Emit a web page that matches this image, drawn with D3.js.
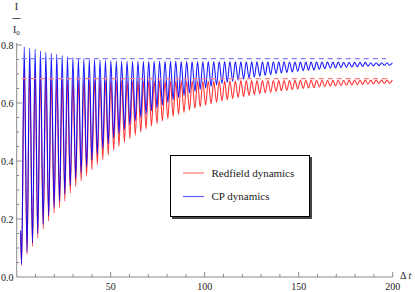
<!DOCTYPE html>
<html>
<head>
<meta charset="utf-8">
<script src="https://cdn.jsdelivr.net/npm/d3@7"></script>
<style>
  body { margin: 0; background: #fff; }
  svg text { font-family: "Liberation Serif", "DejaVu Serif", serif; fill: #222; }
</style>
</head>
<body>
<div id="chart"></div>
<script>
/* I/I0 against Δt: Redfield vs CP dynamics, damped oscillations
   as local minima / maxima, with the two stationary levels as dashed lines. */

// times of the local minima and maxima (shared by both curves)
const troughT = [2.6,5.5,8.4,11.2,14.1,17.0,19.9,22.8,25.6,28.5,31.4,34.3,37.2,40.0,42.9,45.8,48.7,51.6,54.4,57.3,
  60.2,63.1,66.0,68.8,71.7,74.6,77.5,80.4,83.2,86.1,89.0,91.9,94.8,97.6,100.5,103.4,106.3,109.2,112.0,114.9,
  117.8,120.7,123.6,126.4,129.3,132.2,135.1,138.0,140.8,143.7,146.6,149.5,152.4,155.2,158.1,161.0,163.9,166.8,169.6,172.5,
  175.4,178.3,181.2,184.0,186.9,189.8,192.7,195.6,198.4];
const peakT = [4.0,6.9,9.8,12.6,15.5,18.4,21.3,24.2,27.0,29.9,32.8,35.7,38.6,41.4,44.3,47.2,50.1,53.0,55.8,58.7,
  61.6,64.5,67.4,70.2,73.1,76.0,78.9,81.8,84.6,87.5,90.4,93.3,96.2,99.0,101.9,104.8,107.7,110.6,113.4,116.3,
  119.2,122.1,125.0,127.8,130.7,133.6,136.5,139.4,142.2,145.1,148.0,150.9,153.8,156.6,159.5,162.4,165.3,168.2,171.0,173.9,
  176.8,179.7,182.6,185.4,188.3,191.2,194.1,197.0,199.8];

// Redfield dynamics (red)
const redStart = [2.1, 0.15];
const redTrough = [0.04,0.078,0.106,0.135,0.166,0.193,0.22,0.24,0.262,0.29,
  0.312,0.33,0.348,0.369,0.387,0.404,0.42,0.437,0.45,0.464,
  0.477,0.489,0.5,0.51,0.52,0.529,0.538,0.546,0.554,0.561,
  0.568,0.575,0.581,0.587,0.592,0.597,0.602,0.607,0.611,0.615,
  0.619,0.622,0.626,0.629,0.632,0.635,0.637,0.64,0.642,0.644,
  0.646,0.648,0.65,0.652,0.653,0.655,0.656,0.658,0.659,0.66,
  0.661,0.662,0.663,0.664,0.665,0.666,0.667,0.668,0.668];
const redPeak = [0.725,0.712,0.702,0.695,0.69,0.686,0.683,0.681,0.679,0.678,
  0.677,0.677,0.677,0.677,0.677,0.676,0.676,0.676,0.676,0.676,
  0.676,0.676,0.676,0.676,0.676,0.676,0.676,0.676,0.676,0.676,
  0.676,0.676,0.676,0.676,0.676,0.676,0.676,0.676,0.676,0.676,
  0.677,0.677,0.677,0.677,0.677,0.677,0.677,0.677,0.677,0.677,
  0.678,0.678,0.678,0.678,0.678,0.678,0.678,0.678,0.678,0.678,
  0.679,0.679,0.679,0.679,0.679,0.679,0.679,0.679,0.679];

// CP dynamics (blue)
const cpStart = [2.1, 0.16];
const cpTrough = [0.045,0.086,0.117,0.149,0.182,0.211,0.24,0.262,0.286,0.316,
  0.34,0.36,0.38,0.403,0.423,0.442,0.46,0.479,0.494,0.51,
  0.525,0.539,0.551,0.562,0.573,0.583,0.593,0.602,0.611,0.619,
  0.626,0.634,0.64,0.647,0.652,0.657,0.662,0.667,0.671,0.675,
  0.679,0.682,0.686,0.689,0.692,0.695,0.698,0.701,0.703,0.705,
  0.707,0.709,0.711,0.713,0.714,0.716,0.718,0.72,0.721,0.722,
  0.723,0.724,0.725,0.726,0.727,0.728,0.729,0.73,0.73];
const cpPeak = [0.794,0.789,0.785,0.779,0.775,0.771,0.768,0.764,0.76,0.757,
  0.754,0.752,0.751,0.75,0.748,0.747,0.746,0.745,0.744,0.744,
  0.744,0.744,0.744,0.744,0.744,0.744,0.744,0.744,0.744,0.743,
  0.743,0.743,0.743,0.743,0.743,0.743,0.743,0.743,0.743,0.742,
  0.742,0.742,0.742,0.742,0.742,0.742,0.742,0.742,0.742,0.741,
  0.741,0.741,0.741,0.741,0.741,0.741,0.741,0.741,0.741,0.74,
  0.74,0.74,0.74,0.74,0.739,0.739,0.739,0.739,0.739];

// stationary levels (dashed): value, first t, last t
const redLevel = [0.684, 2.7, 199];
const cpLevel  = [0.753, 2.7, 196.5];

const xTicksMajor = [50, 100, 150, 200];
const yTicksMajor = [0.0, 0.2, 0.4, 0.6, 0.8];
const legendItems = ["Redfield dynamics", "CP dynamics"];

const W = 415, H = 292;
const x = d3.scaleLinear().domain([0, 200]).range([16.7, 392.7]);
const y = d3.scaleLinear().domain([0, 0.8]).range([277, 45]);

const svg = d3.select("#chart").append("svg").attr("width", W).attr("height", H);

// merge start point, minima and maxima into one time-ordered series
function series(start, trough, peak){
  const pts = [start];
  troughT.forEach((t, i) => pts.push([t, trough[i]]));
  peakT.forEach((t, i) => pts.push([t, peak[i]]));
  return pts.sort((a, b) => a[0] - b[0]);
}

const line = d3.line().x(d => x(d[0])).y(d => y(d[1])).curve(d3.curveMonotoneX);

// axes (Mathematica-style: gray, ticks pointing inward)
const axisCol = "#8a8a8a";
const ax = svg.append("g");
ax.append("line").attr("x1", x(0)).attr("x2", x(200)).attr("y1", y(0)).attr("y2", y(0))
  .attr("stroke", axisCol);
ax.append("line").attr("x1", x(0)).attr("x2", x(0)).attr("y1", y(0)).attr("y2", y(0.8) - 2)
  .attr("stroke", axisCol);

d3.range(10, 201, 10).forEach(t => {
  const major = xTicksMajor.includes(t);
  ax.append("line").attr("x1", x(t)).attr("x2", x(t)).attr("y1", y(0)).attr("y2", y(0) - (major ? 5 : 3))
    .attr("stroke", axisCol);
});
xTicksMajor.forEach(t => {
  ax.append("text").attr("x", x(t)).attr("y", 290).attr("text-anchor", "middle")
    .attr("font-size", 10).text(t);
});
d3.range(1, 17).forEach(k => {
  const v = k * 0.05;
  const major = k % 4 === 0;
  ax.append("line").attr("x1", x(0)).attr("x2", x(0) + (major ? 5 : 2.5)).attr("y1", y(v)).attr("y2", y(v))
    .attr("stroke", axisCol);
});
yTicksMajor.forEach(v => {
  ax.append("text").attr("x", 13.5).attr("y", y(v) + 3.5).attr("text-anchor", "end")
    .attr("font-size", 10).text(v.toFixed(1));
});

// axis labels
svg.append("text").attr("x", 400).attr("y", 279).attr("font-size", 10)
  .html('Δ <tspan font-style="italic">t</tspan>');
svg.append("text").attr("x", 16.5).attr("y", 10).attr("text-anchor", "middle").attr("font-size", 10).text("I");
svg.append("line").attr("x1", 12.5).attr("x2", 20.5).attr("y1", 18.5).attr("y2", 18.5)
  .attr("stroke", "#222").attr("stroke-width", 0.8);
svg.append("text").attr("x", 13).attr("y", 33).attr("font-size", 10)
  .html('I<tspan font-size="7" dy="2">0</tspan>');

// curves: red first, blue on top
const plot = svg.append("g");
plot.append("path").datum(series(redStart, redTrough, redPeak)).attr("d", line)
  .attr("fill", "none").attr("stroke", "#ff0000").attr("stroke-width", 1.1).attr("stroke-opacity", 0.8);
plot.append("path").datum(series(cpStart, cpTrough, cpPeak)).attr("d", line)
  .attr("fill", "none").attr("stroke", "#0000ff").attr("stroke-width", 1.1).attr("stroke-opacity", 0.9);

// dashed stationary levels
[[redLevel, "#ff8080"], [cpLevel, "#8080ff"]].forEach(([lv, col]) => {
  plot.append("line").attr("x1", x(lv[1])).attr("x2", x(lv[2])).attr("y1", y(lv[0])).attr("y2", y(lv[0]))
    .attr("stroke", col).attr("stroke-width", 1.1).attr("stroke-dasharray", "5,4");
});

// legend box with drop shadow
const lg = svg.append("g");
lg.append("rect").attr("x", 172).attr("y", 157).attr("width", 140).attr("height", 62).attr("fill", "#444");
lg.append("rect").attr("x", 170.5).attr("y", 155.5).attr("width", 139).attr("height", 61)
  .attr("fill", "#fff").attr("stroke", "#000").attr("stroke-width", 1);
legendItems.forEach((name, i) => {
  const yy = 173 + i * 23.5;
  lg.append("line").attr("x1", 183).attr("x2", 204).attr("y1", yy).attr("y2", yy)
    .attr("stroke", i === 0 ? "#ff6a6a" : "#5a5aff").attr("stroke-width", 1.1);
  lg.append("text").attr("x", 211.5).attr("y", yy + 3.5).attr("font-size", 11).text(name);
});
</script>
</body>
</html>
